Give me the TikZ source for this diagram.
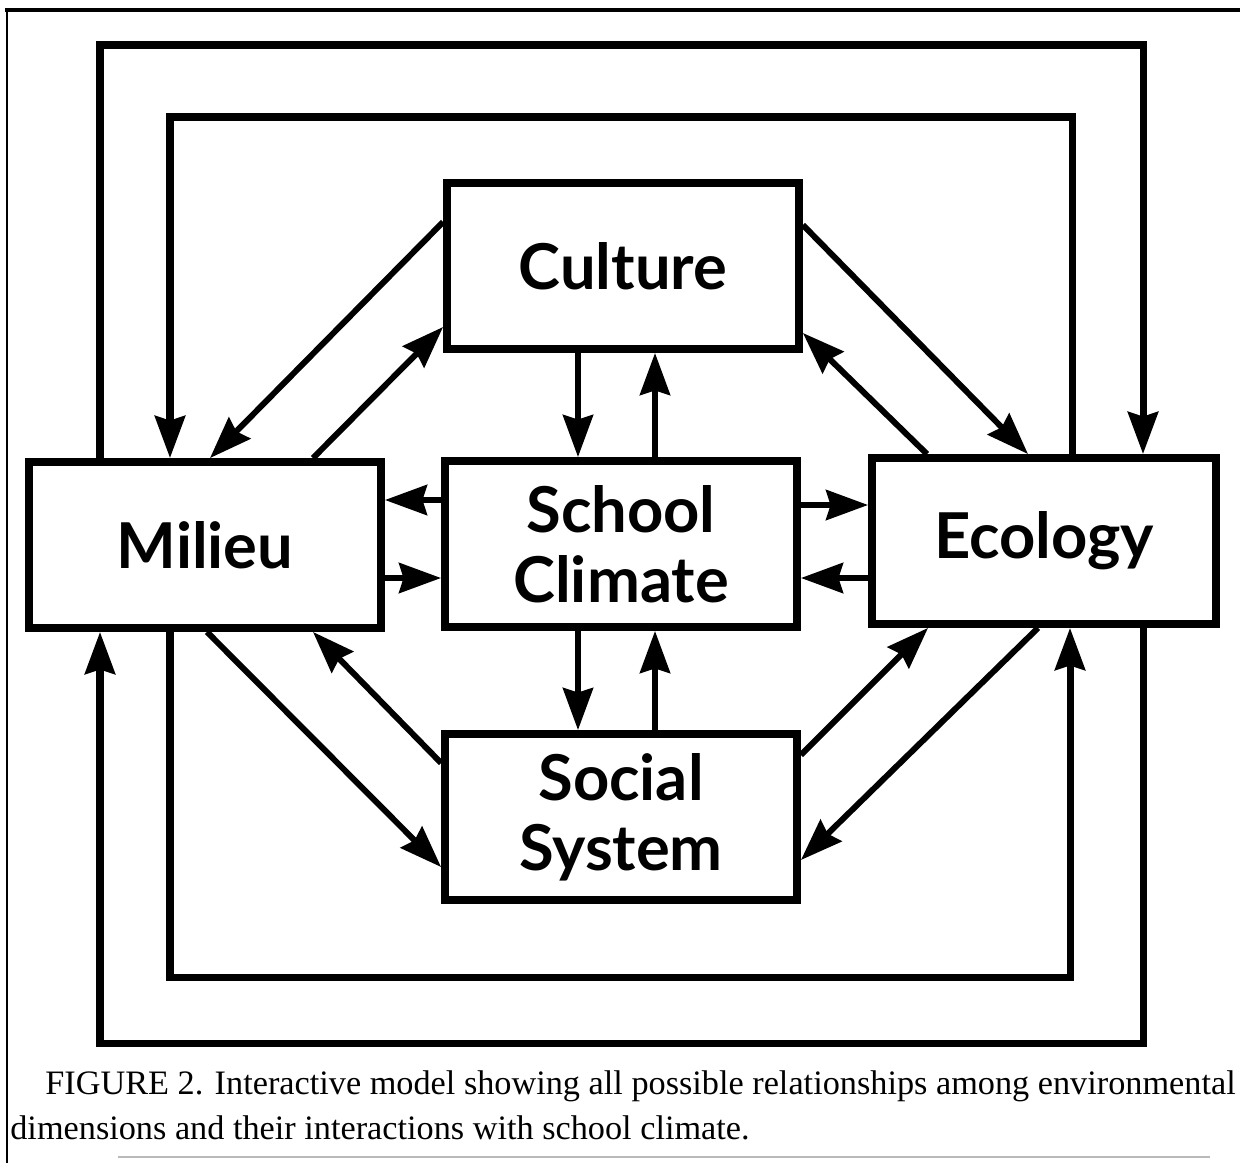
\documentclass[tikz,border=0pt]{standalone}
\usepackage{fontspec}
\setmainfont{Liberation Serif}
\newfontfamily\boxfont{Lato}
\usepackage{tikz}
\usetikzlibrary{arrows.meta, positioning, calc}
\tikzset{%
	dim/.style={draw, rectangle, line width=4.5pt, minimum width=7.04cm, minimum height=3.32cm,%
		inner sep=0mm, align=center, font=\boxfont\bfseries\fontsize{36}{40}\selectfont},
	link/.style={line width=3.4pt, -{Stealth[length=8.4mm, width=6mm, inset=0.9mm]}},
	feedback/.style={link, line width=4pt},
	pageline/.style={line width=2pt}
}

\begin{document}
\begin{tikzpicture}[x=0.02cm, y=-0.02cm]
	\useasboundingbox (0,0) rectangle (1240,1163);

	% rules of the page
	\draw[pageline] (5,10) -- (1240,10);
	\draw[line width=1.2pt] (7,8) -- (7,1163);
	\draw[gray!55, line width=1.5pt] (118,1157) -- (1210,1157);

	% the five dimensions
	\node[dim] (culture) at (623,266) {Culture};
	\node[dim] (climate) at (621,544) {School\\Climate};
	\node[dim] (milieu) at (205,545) {Milieu};
	\node[dim, minimum width=6.88cm] (ecology) at (1044,541) {Ecology};
	\node[dim] (social) at (621,817) {Social\\System};

	% school climate and its neighbours
	\draw[link] (culture.south -| 578,0) -- (climate.north -| 578,0);
	\draw[link] (climate.north -| 655,0) -- (culture.south -| 655,0);
	\draw[link] (climate.south -| 578,0) -- (social.north -| 578,0);
	\draw[link] (social.north -| 655,0) -- (climate.south -| 655,0);
	\draw[link] (climate.west |- 0,500) -- (milieu.east |- 0,500);
	\draw[link] (milieu.east |- 0,578) -- (climate.west |- 0,578);
	\draw[link] (climate.east |- 0,505) -- (ecology.west |- 0,505);
	\draw[link] (ecology.west |- 0,578) -- (climate.east |- 0,578);

	% diagonals
	\draw[link] (culture.west |- 0,222) -- (milieu.north -| 210,0);
	\draw[link] (milieu.north -| 313,0) -- (culture.west |- 0,327);
	\draw[link] (culture.east |- 0,225) -- (ecology.north -| 1028,0);
	\draw[link] (ecology.north -| 927,0) -- (culture.east |- 0,333);
	\draw[link] (milieu.south -| 207,0) -- (social.west |- 0,867);
	\draw[link] (social.west |- 0,763) -- (milieu.south -| 313,0);
	\draw[link] (social.east |- 0,755) -- (ecology.south -| 928,0);
	\draw[link] (ecology.south -| 1038,0) -- (social.east |- 0,860);

	% milieu <-> ecology, around the outside
	\draw[feedback] (milieu.north -| 100,0) -- (100,45) -- (1143,45) -- (ecology.north -| 1143,0);
	\draw[feedback] (ecology.north -| 1072,0) -- (1072,117) -- (170,117) -- (milieu.north -| 170,0);
	\draw[feedback] (milieu.south -| 170,0) -- (170,977) -- (1070,977) -- (ecology.south -| 1070,0);
	\draw[feedback] (ecology.south -| 1143,0) -- (1143,1043) -- (100,1043) -- (milieu.south -| 100,0);

	\node[anchor=north west, align=left, inner sep=0pt, font=\fontsize{19.5}{26}\selectfont] (caption) at (10,1070)
		{\hspace*{0.7cm}FIGURE 2. Interactive model showing all possible relationships among environmental\\
		dimensions and their interactions with school climate.};
\end{tikzpicture}
\end{document}
